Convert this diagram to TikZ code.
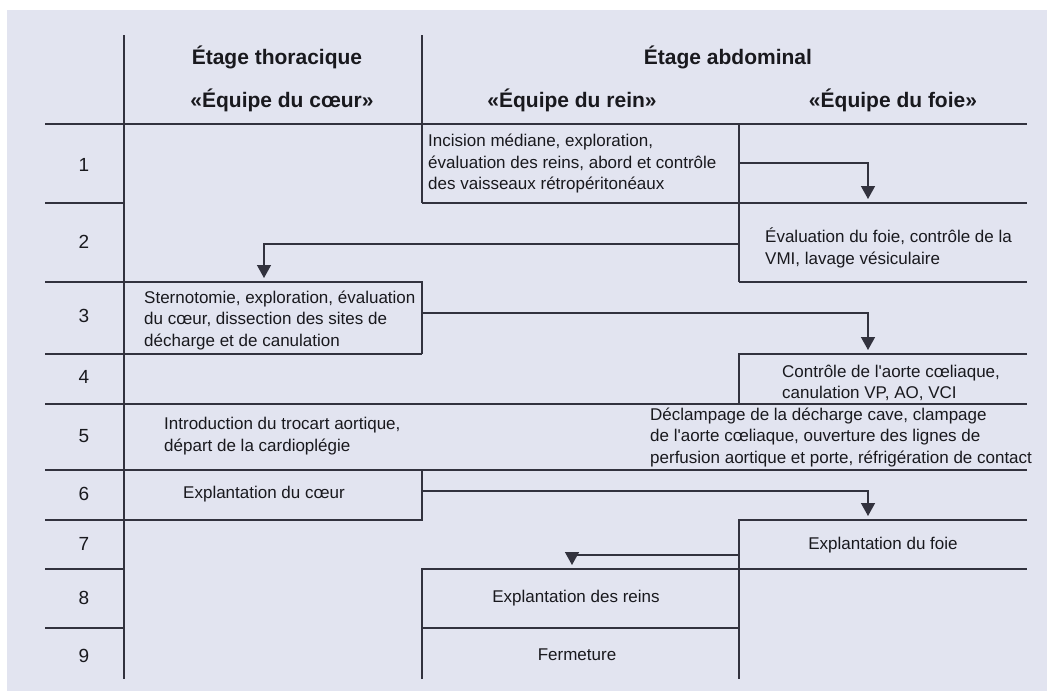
\documentclass[tikz,border=0pt]{standalone}
\usepackage{fontspec}
\setmainfont{Liberation Sans}
\usetikzlibrary{arrows.meta}
\usetikzlibrary{positioning}

\definecolor{fond}{RGB}{226,228,240}
\definecolor{trait}{RGB}{50,50,62}
\definecolor{encre}{RGB}{25,25,30}

\tikzset{
  trait/.style={draw=trait, line width=1.4pt},
  fleche/.style={trait, -{Triangle[width=14pt,length=13pt]}},
  entete/.style={inner sep=0pt, text=encre, font=\fontsize{21}{25}\selectfont\bfseries},
  numero/.style={inner sep=0pt, text=encre, font=\fontsize{19}{22}\selectfont},
  etape/.style={inner sep=0pt, text=encre, align=left, anchor=west, font=\fontsize{17}{21.5}\selectfont},
  etapec/.style={inner sep=0pt, text=encre, align=center, font=\fontsize{17}{21.5}\selectfont}
}

\begin{document}
\begin{tikzpicture}[x=1pt, y=-1pt]
    % panel
    \fill[white] (0,0) rectangle (1047,691);
    \fill[fond] (7,10) rectangle (1047,691);
    \useasboundingbox (0,0) rectangle (1047,691);

    % headers
    \node[entete] (thorax) at (277,57) {Étage thoracique};
    \node[entete] (abdomen) at (728,57) {Étage abdominal};
    \node[entete] (coeur) at (282,100) {«Équipe du cœur»};
    \node[entete] (rein) at (572,100) {«Équipe du rein»};
    \node[entete] (foie) at (893,100) {«Équipe du foie»};

    % row numbers
    \node[numero] (n1) at (84,165) {1};
    \node[numero] (n2) at (84,242) {2};
    \node[numero] (n3) at (84,316) {3};
    \node[numero] (n4) at (84,377) {4};
    \node[numero] (n5) at (84,436) {5};
    \node[numero] (n6) at (84,494) {6};
    \node[numero] (n7) at (84,544) {7};
    \node[numero] (n8) at (84,598) {8};
    \node[numero] (n9) at (84,656) {9};

    % grid lines
    \draw[trait] (124,35) -- (124,679);
    \draw[trait] (422,35) -- (422,203);
    \draw[trait] (45,124) -- (1027,124);
    \draw[trait] (45,203) -- (124,203);
    \draw[trait] (422,203) -- (1027,203);
    \draw[trait] (739,124) -- (739,282);
    \draw[trait] (45,282) -- (422,282) -- (422,354);
    \draw[trait] (739,282) -- (1027,282);
    \draw[trait] (45,354) -- (422,354);
    \draw[trait] (1027,354) -- (739,354) -- (739,404);
    \draw[trait] (45,404) -- (1027,404);
    \draw[trait] (45,470) -- (1027,470);
    \draw[trait] (422,470) -- (422,520) -- (45,520);
    \draw[trait] (1027,520) -- (739,520) -- (739,679);
    \draw[trait] (45,569) -- (124,569);
    \draw[trait] (422,679) -- (422,569) -- (1027,569);
    \draw[trait] (45,628) -- (124,628);
    \draw[trait] (422,628) -- (739,628);

    % steps
    \node[etape] (incision) at (428,164) {Incision médiane, exploration,\\évaluation des reins, abord et contrôle\\des vaisseaux rétropéritonéaux};
    \node[etape] (evalfoie) at (765,248) {Évaluation du foie, contrôle de la\\VMI, lavage vésiculaire};
    \node[etape] (sterno) at (144,320) {Sternotomie, exploration, évaluation\\du cœur, dissection des sites de\\décharge et de canulation};
    \node[etape] (aorte) at (782,383) {Contrôle de l\textquotesingle aorte cœliaque,\\canulation VP, AO, VCI};
    \node[etape] (trocart) at (164,436) {Introduction du trocart aortique,\\départ de la cardioplégie};
    \node[etape] (declamp) at (650,437) {Déclampage de la décharge cave, clampage\\de l\textquotesingle aorte cœliaque, ouverture des lignes de\\perfusion aortique et porte, réfrigération de contact};
    \node[etapec] (excoeur) at (264,494) {Explantation du cœur};
    \node[etapec] (exfoie) at (883,545) {Explantation du foie};
    \node[etapec] (exreins) at (576,598) {Explantation des reins};
    \node[etapec] (fermeture) at (577,655) {Fermeture};

    % arrow ends
    \coordinate (s1) at (739,163);
    \coordinate (e1) at (868,199);
    \coordinate (s2) at (739,244);
    \coordinate (e2) at (264,278);
    \coordinate (s3) at (422,313);
    \coordinate (e3) at (868,350);
    \coordinate (s6) at (422,491);
    \coordinate (e6) at (868,516);
    \coordinate (s7) at (739,555);
    \coordinate (e7) at (572,565);

    % arrows
    \draw[fleche] (s1) -| (e1);
    \draw[fleche] (s2) -| (e2);
    \draw[fleche] (s3) -| (e3);
    \draw[fleche] (s6) -| (e6);
    \draw[fleche] (s7) -| (e7);
\end{tikzpicture}
\end{document}
